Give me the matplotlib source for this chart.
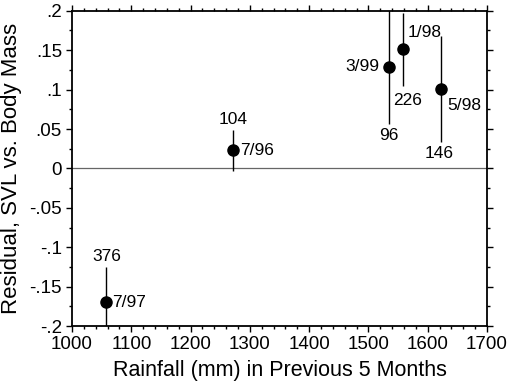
import numpy as np
import matplotlib.pyplot as plt
from matplotlib.ticker import MultipleLocator, FuncFormatter

plt.rcParams['font.family'] = ['Liberation Sans', 'DejaVu Sans']

# Data
dates = ['7/97', '7/96', '3/99', '1/98', '5/98']
rainfall = [1058, 1272, 1534, 1559, 1622]
residual = [-0.170, 0.023, 0.129, 0.151, 0.101]
err = [0.045, 0.026, 0.072, 0.046, 0.067]
n = ['376', '104', '96', '226', '146']

# date label offsets from the point (points), alignment
date_pos = [((4, 0), 'left'),
            ((5, 0), 'left'),
            ((-7, 0), 'right'),
            ((3, 12), 'left'),
            ((5, -12), 'left')]
# sample size label: offset from bar end, which end
n_pos = [((0, 2), 'top'),
         ((0, 2), 'top'),
         ((0, -3), 'bottom'),
         ((3, -5), 'bottom'),
         ((-1, -3), 'bottom')]


def fmt(v, pos):
    s = ('%.3f' % v).rstrip('0').rstrip('.')
    s = s.replace('0.', '.')
    if s in ('-0', ''):
        s = '0'
    return s


fig = plt.figure(figsize=(5.11, 3.85), dpi=100)
ax = fig.add_axes([0.141, 0.153, 0.812, 0.819])

ax.axhline(0, color='#666666', lw=0.9, zorder=1)
ax.errorbar(rainfall, residual, yerr=err, fmt='o', color='black',
            ms=8, elinewidth=1.0, capsize=0, zorder=3)

for i in range(len(dates)):
    (dx, dy), ha = date_pos[i]
    ax.annotate(dates[i], (rainfall[i], residual[i]), xytext=(dx, dy),
                textcoords='offset points', ha=ha, va='center', fontsize=12.5)
    (dx, dy), end = n_pos[i]
    if end == 'top':
        yend, va = residual[i] + err[i], 'bottom'
    else:
        yend, va = residual[i] - err[i], 'top'
    ax.annotate(n[i], (rainfall[i], yend), xytext=(dx, dy),
                textcoords='offset points', ha='center', va=va, fontsize=12.5)

ax.set_xlim(1000, 1700)
ax.set_ylim(-0.2, 0.2)
ax.xaxis.set_major_locator(MultipleLocator(100))
ax.xaxis.set_minor_locator(MultipleLocator(20))
ax.yaxis.set_major_locator(MultipleLocator(0.05))
ax.yaxis.set_minor_locator(MultipleLocator(0.025))
ax.yaxis.set_major_formatter(FuncFormatter(fmt))

ax.tick_params(which='both', direction='out', top=True, right=True,
               labeltop=False, labelright=False, width=1.0, labelsize=13.5)
ax.tick_params(which='major', length=4.3, pad=3)
ax.tick_params(which='minor', length=2.2)
for s in ax.spines.values():
    s.set_linewidth(1.3)

ax.set_xlabel('Rainfall (mm) in Previous 5 Months', fontsize=15.5, labelpad=5)
ax.set_ylabel('Residual, SVL vs. Body Mass', fontsize=16, labelpad=5)

fig.savefig('out.png', dpi=100)
